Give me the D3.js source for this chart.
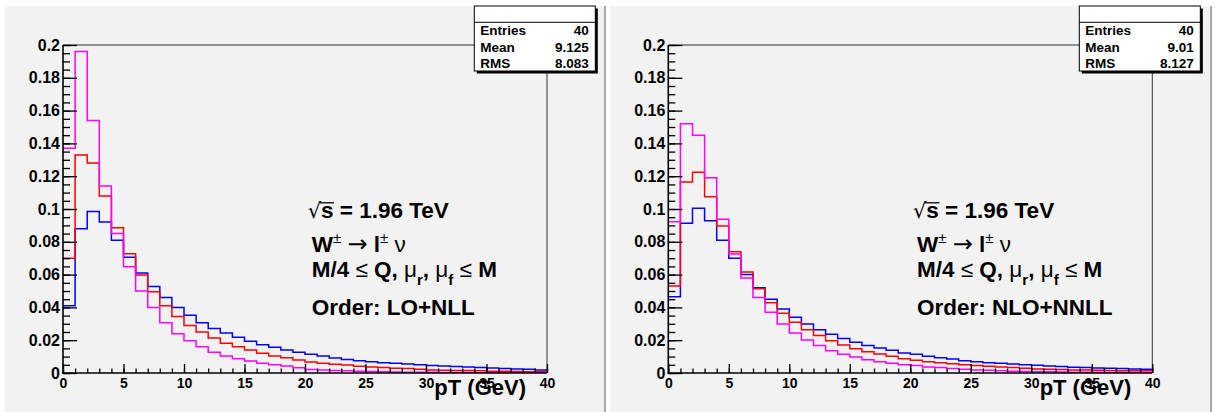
<!DOCTYPE html>
<html>
<head>
<meta charset="utf-8">
<script src="https://cdn.jsdelivr.net/npm/d3@7"></script>
<style>
  html, body { margin: 0; padding: 0; background: #ffffff; }
  svg { display: block; }
</style>
</head>
<body>
<svg id="chart" width="1224" height="412"></svg>
<script>
// ---------------- DATA ----------------
const binLow = [0,1,2,3,4,5,6,7,8,9,10,11,12,13,14,15,16,17,18,19,
                20,21,22,23,24,25,26,27,28,29,30,31,32,33,34,35,36,37,38,39];

// Left panel: Order LO+NLL
const loBlue = [0.041,0.088,0.0985,0.092,0.081,0.0706,0.061,0.0527,0.046,0.040,
                0.0352,0.0307,0.0272,0.0244,0.0218,0.0193,0.0173,0.0157,0.014,0.0126,
                0.0115,0.0104,0.0092,0.0083,0.0075,0.0069,0.0063,0.0059,0.0055,0.0051,
                0.0046,0.0043,0.0039,0.0037,0.0033,0.0031,0.0027,0.0025,0.0023,0.0019];
const loRed = [0.070,0.133,0.128,0.108,0.0886,0.0727,0.0597,0.0495,0.041,0.0344,
               0.029,0.025,0.0214,0.0181,0.016,0.014,0.012,0.0104,0.0093,0.0079,
               0.0067,0.0059,0.0053,0.0049,0.0041,0.0037,0.0033,0.0029,0.0027,0.0023,
               0.0019,0.0017,0.0015,0.0015,0.0013,0.0011,0.0010,0.0009,0.0008,0.0007];
const loMagenta = [0.137,0.196,0.154,0.114,0.085,0.0648,0.050,0.040,0.0307,0.024,
                   0.0197,0.016,0.0126,0.0104,0.0087,0.0073,0.006,0.005,0.0042,0.0032,
                   0.0022,0.0018,0.0015,0.0013,0.0011,0.0009,0.0008,0.0006,0.0005,0.0004,
                   0.0004,0.0003,0.0003,0.0003,0.0002,0.0002,0.0002,0.0002,0.0001,0.0001];

// Right panel: Order NLO+NNLL
const nloBlue = [0.0465,0.0913,0.1004,0.0929,0.081,0.070,0.060,0.052,0.045,0.039,
                 0.034,0.0299,0.0264,0.0236,0.021,0.0187,0.0167,0.0152,0.0138,0.0122,
                 0.0114,0.0102,0.0093,0.0085,0.0075,0.0069,0.0063,0.0059,0.0055,0.0051,
                 0.0047,0.0043,0.0039,0.0035,0.0033,0.0031,0.0029,0.0027,0.0025,0.0023];
const nloRed = [0.053,0.1165,0.1224,0.1075,0.0896,0.074,0.0616,0.0514,0.0429,0.0364,
                0.031,0.0264,0.0228,0.0197,0.0171,0.0148,0.013,0.0116,0.0102,0.0087,
                0.0077,0.0069,0.0063,0.0057,0.0051,0.0045,0.0041,0.0037,0.0033,0.0029,
                0.0025,0.0023,0.0021,0.0019,0.0018,0.0017,0.0015,0.0014,0.0013,0.0013];
const nloMagenta = [0.0922,0.152,0.145,0.119,0.0937,0.0725,0.058,0.046,0.037,0.0299,
                    0.0244,0.0201,0.0167,0.0136,0.0114,0.0098,0.0081,0.0069,0.0059,0.0051,
                    0.0045,0.0037,0.0033,0.0027,0.0023,0.0019,0.0017,0.0013,0.0011,0.0009,
                    0.0008,0.0007,0.0006,0.0005,0.0005,0.0004,0.0003,0.0003,0.0003,0.0003];

const xTicks = [0,5,10,15,20,25,30,35,40];
const xTickLabels = ["0","5","10","15","20","25","30","35","40"];
const yTicks = [0,0.02,0.04,0.06,0.08,0.1,0.12,0.14,0.16,0.18,0.2];
const yTickLabels = ["0","0.02","0.04","0.06","0.08","0.1","0.12","0.14","0.16","0.18","0.2"];
const xMinorTicks = binLow.concat([40]);
const yMinorTicks = [0,0.005,0.01,0.015,0.02,0.025,0.03,0.035,0.04,0.045,0.05,0.055,0.06,
                     0.065,0.07,0.075,0.08,0.085,0.09,0.095,0.1,0.105,0.11,0.115,0.12,
                     0.125,0.13,0.135,0.14,0.145,0.15,0.155,0.16,0.165,0.17,0.175,0.18,
                     0.185,0.19,0.195,0.2];

const statLabels = ["Entries","Mean","RMS"];
const leftStats = ["40","9.125","8.083"];
const rightStats = ["40","9.01","8.127"];
const xTitle = "pT (GeV)";
const leftOrder = "Order: LO+NLL";
const rightOrder = "Order: NLO+NNLL";
const seriesColors = ["#0000ff","#ff0000","#ff00ff"];

// ---------------- DRAW ----------------
const svg = d3.select("#chart");
const FONT = "'Liberation Sans', Arial, Helvetica, sans-serif";
const SYM = "'DejaVu Sans', 'Liberation Sans', sans-serif";

function drawPanel(p) {
  const g = svg.append("g");
  // pad
  g.append("rect").attr("x", p.padX).attr("y", 6).attr("width", p.padW).attr("height", 406)
    .attr("fill", "#f2f2f2");
  g.append("rect").attr("x", p.padX + p.padW).attr("y", 6).attr("width", 2).attr("height", 406)
    .attr("fill", "#a9a9a9");

  const x = d3.scaleLinear().domain([0, 40]).range([p.left, p.right]);
  const y = d3.scaleLinear().domain([0, 0.2]).range([373, 45]);

  // frame top & right
  g.append("line").attr("x1", p.left).attr("x2", p.right).attr("y1", y(0.2)).attr("y2", y(0.2))
    .attr("stroke", "#333").attr("stroke-width", 1);
  g.append("line").attr("x1", p.right).attr("x2", p.right).attr("y1", y(0.2)).attr("y2", y(0))
    .attr("stroke", "#333").attr("stroke-width", 1);

  // histograms
  const clipId = "clip" + p.id;
  svg.append("clipPath").attr("id", clipId).append("rect")
    .attr("x", p.left).attr("y", y(0.2)).attr("width", p.right - p.left).attr("height", y(0) - y(0.2));
  const line = d3.line().x(d => x(d[0])).y(d => y(d[1])).curve(d3.curveStepAfter);
  p.series.forEach((vals, si) => {
    const pts = binLow.map((b, i) => [b, vals[i]]);
    pts.push([40, vals[vals.length - 1]]);
    g.append("path").attr("d", line(pts)).attr("fill", "none")
      .attr("stroke", seriesColors[si]).attr("stroke-width", 1.5)
      .attr("clip-path", `url(#${clipId})`);
  });

  // axes
  const yMinor = d3.axisLeft(y).tickValues(yMinorTicks).tickSize(-7).tickFormat("");
  const yMajor = d3.axisLeft(y).tickValues(yTicks).tickSize(-14).tickPadding(3)
    .tickFormat((d, i) => yTickLabels[i]);
  const xMinor = d3.axisBottom(x).tickValues(xMinorTicks).tickSize(-4.5).tickFormat("");
  const xMajor = d3.axisBottom(x).tickValues(xTicks).tickSize(-9).tickPadding(5)
    .tickFormat((d, i) => xTickLabels[i]);

  function styleAxis(sel, fs) {
    sel.select(".domain").remove();
    sel.selectAll(".tick line").attr("stroke", "#000").attr("stroke-width", 1.3);
    sel.selectAll("text").attr("font-family", FONT).attr("font-weight", "bold")
      .attr("font-size", fs).attr("fill", "#000");
  }
  g.append("g").attr("transform", `translate(${p.left},0)`).call(yMinor).call(s => styleAxis(s, 16));
  g.append("g").attr("transform", `translate(${p.left},0)`).call(yMajor).call(s => styleAxis(s, 16));
  g.append("g").attr("transform", `translate(0,${y(0)})`).call(xMinor).call(s => styleAxis(s, 14));
  g.append("g").attr("transform", `translate(0,${y(0)})`).call(xMajor).call(s => styleAxis(s, 14));

  // axis lines
  g.append("line").attr("x1", p.left).attr("x2", p.left).attr("y1", y(0.2)).attr("y2", y(0) + 0.75)
    .attr("stroke", "#000").attr("stroke-width", 1.6);
  g.append("line").attr("x1", p.left - 0.8).attr("x2", p.right).attr("y1", y(0)).attr("y2", y(0))
    .attr("stroke", "#000").attr("stroke-width", 1.6);

  // axis title
  g.append("text").attr("x", p.left + 463).attr("y", 395).attr("text-anchor", "end")
    .attr("font-family", FONT).attr("font-weight", "bold").attr("font-size", 22)
    .attr("fill", "#000").text(xTitle);

  // stats box
  const sx = p.statX, sw = p.statW, sy = 6, sh = 65;
  g.append("rect").attr("x", sx + 2.5).attr("y", sy + 2.5).attr("width", sw).attr("height", sh).attr("fill", "#000");
  g.append("rect").attr("x", sx).attr("y", sy).attr("width", sw).attr("height", sh)
    .attr("fill", "#fff").attr("stroke", "#000").attr("stroke-width", 1);
  g.append("line").attr("x1", sx).attr("x2", sx + sw).attr("y1", 22.3).attr("y2", 22.3)
    .attr("stroke", "#000").attr("stroke-width", 1);
  const rowY = [35, 51.5, 68];
  statLabels.forEach((lab, i) => {
    g.append("text").attr("x", sx + 6).attr("y", rowY[i]).attr("font-family", FONT)
      .attr("font-weight", "bold").attr("font-size", 13.5).attr("fill", "#000").text(lab);
    g.append("text").attr("x", sx + sw - 6.5).attr("y", rowY[i]).attr("text-anchor", "end")
      .attr("font-family", FONT).attr("font-weight", "bold").attr("font-size", 13.5)
      .attr("fill", "#000").text(p.stats[i]);
  });

  // annotation
  const tx = x(20.55);
  const FS = 22.5;
  // sqrt(s) line
  const sx0 = tx - 4;
  const sq = g.append("text").attr("x", sx0).attr("y", 218).attr("font-family", SYM)
    .attr("font-size", 21).attr("fill", "#000").text("√");
  const sqW = sq.node().getComputedTextLength();
  const sText = g.append("text").attr("x", sx0 + sqW).attr("y", 218).attr("font-family", FONT)
    .attr("font-weight", "bold").attr("font-size", FS).attr("fill", "#000").text("s");
  const sW = sText.node().getComputedTextLength();
  g.append("line").attr("x1", sx0 + sqW - 1.5).attr("x2", sx0 + sqW + sW + 0.5)
    .attr("y1", 202.8).attr("y2", 202.8).attr("stroke", "#000").attr("stroke-width", 1.3);
  g.append("text").attr("x", sx0 + sqW + sW).attr("y", 218).attr("font-family", FONT)
    .attr("font-weight", "bold").attr("font-size", FS).attr("fill", "#000")
    .style("white-space", "pre").text(" = 1.96 TeV");

  function richLine(yb, parts) {
    const t = g.append("text").attr("x", tx).attr("y", yb).attr("font-family", FONT)
      .attr("fill", "#000").style("white-space", "pre");
    parts.forEach(pt => {
      const ts = t.append("tspan").attr("font-weight", pt.w || "bold").attr("font-size", pt.s || FS)
        .attr("dy", pt.dy || 0).text(pt.t);
      if (pt.f) ts.attr("font-family", pt.f);
    });
  }
  richLine(251.5, [
    {t: "W"}, {t: "±", w: "normal", s: 15, dy: -9}, {t: " ", dy: 9},
    {t: "→", w: "normal", f: SYM, s: 24}, {t: " l"}, {t: "±", w: "normal", s: 15, dy: -9},
    {t: " ν", w: "normal", dy: 9}
  ]);
  richLine(276.5, [
    {t: "M/4 "}, {t: "≤", w: "normal"}, {t: " Q, "}, {t: "μ", w: "normal"},
    {t: "r", s: 15, dy: 8}, {t: ", ", dy: -8}, {t: "μ", w: "normal"},
    {t: "f", s: 15, dy: 8}, {t: " ", dy: -8}, {t: "≤", w: "normal"}, {t: " M"}
  ]);
  richLine(315, [{t: p.order}]);
}

drawPanel({id: "L", padX: 5, padW: 599, left: 63, right: 547, statX: 474.3, statW: 121,
           series: [loBlue, loRed, loMagenta], stats: leftStats, order: leftOrder});
drawPanel({id: "R", padX: 610, padW: 600, left: 668.3, right: 1152.3, statX: 1079.3, statW: 121,
           series: [nloBlue, nloRed, nloMagenta], stats: rightStats, order: rightOrder});
</script>
</body>
</html>
